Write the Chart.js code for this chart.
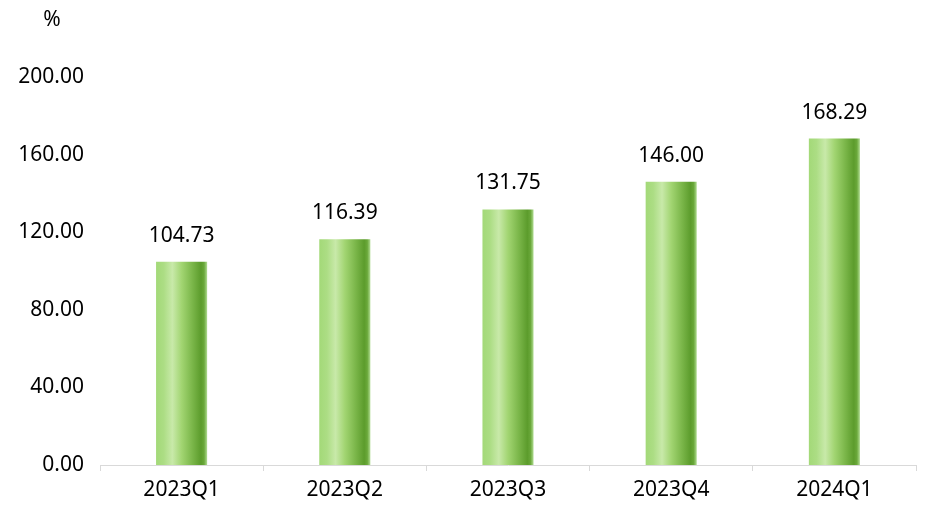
<!DOCTYPE html>
<html>
<head>
<meta charset="utf-8">
<script src="https://cdn.jsdelivr.net/npm/chart.js@4.4.1/dist/chart.umd.min.js"></script>
<style>
  html, body { margin: 0; padding: 0; background: #fff; }
  #wrap { width: 933px; height: 515px; }
</style>
</head>
<body>
<div id="wrap"><canvas id="chart"></canvas></div>
<script>
// categorias e valores (%)
const quarters = ['2023Q1', '2023Q2', '2023Q3', '2023Q4', '2024Q1'];
const ratios = [104.73, 116.39, 131.75, 146.00, 168.29];
const yTicks = [0, 40, 80, 120, 160, 200];

const FONT = '"Noto Sans", "Open Sans", sans-serif';
const BAR_PCT = 0.313;

// gradiente horizontal de cada barra (efeito cilindro)
const barGradient = (ctx) => {
    const chart = ctx.chart;
    const xs = chart.scales.x;
    if (!xs || ctx.dataIndex === undefined) return '#8cc763';
    const cx = xs.getPixelForValue(ctx.dataIndex);
    const half = (xs.width / quarters.length) * BAR_PCT / 2;
    if (!isFinite(cx) || !isFinite(half) || half <= 0) return '#8cc763';
    const g = chart.ctx.createLinearGradient(cx - half, 0, cx + half, 0);
    g.addColorStop(0, '#a3d978');
    g.addColorStop(0.15, '#acdd84');
    g.addColorStop(0.32, '#c8e9a9');
    g.addColorStop(0.5, '#a2d572');
    g.addColorStop(0.72, '#79b548');
    g.addColorStop(0.88, '#5c9c2c');
    g.addColorStop(0.94, '#6aa83a');
    g.addColorStop(1, '#b0dc92');
    return g;
};

// rótulos de valor acima das barras + "%" no topo
const labelsPlugin = {
    id: 'labels',
    afterDatasetsDraw(chart) {
        const c = chart.ctx;
        c.save();
        c.font = '21px ' + FONT;
        c.fillStyle = '#000';
        c.textAlign = 'center';
        c.textBaseline = 'middle';
        chart.getDatasetMeta(0).data.forEach((bar, i) => {
            c.fillText(ratios[i].toFixed(2), bar.x, bar.y - 26);
        });
        c.fillText('%', 52, 20);
        c.restore();
    }
};

const chart = new Chart(document.getElementById('chart'), {
    type: 'bar',
    data: {
        labels: quarters,
        datasets: [{
            data: ratios,
            backgroundColor: barGradient,
            borderWidth: 0,
            barPercentage: BAR_PCT,
            categoryPercentage: 1
        }]
    },
    options: {
        responsive: true,
        maintainAspectRatio: false,
        animation: false,
        layout: { padding: { left: 0, right: 17, top: 77, bottom: 0 } },
        plugins: {
            legend: { display: false },
            tooltip: { enabled: false }
        },
        scales: {
            x: {
                offset: true,
                grid: {
                    display: true,
                    drawOnChartArea: false,
                    drawTicks: true,
                    tickLength: 6,
                    color: '#d9d9d9',
                    offset: true
                },
                border: { display: true, color: '#d9d9d9', width: 1 },
                ticks: {
                    color: '#000',
                    font: { family: FONT, size: 21 },
                    padding: 6,
                    maxRotation: 0
                },
                afterFit: (scale) => { scale.height = 50; }
            },
            y: {
                min: 0,
                max: 200,
                grid: { display: false },
                border: { display: false },
                afterBuildTicks: (scale) => { scale.ticks = yTicks.map(v => ({ value: v })); },
                ticks: {
                    color: '#000',
                    font: { family: FONT, size: 21 },
                    padding: 8,
                    callback: (v) => Number(v).toFixed(2)
                },
                afterFit: (scale) => { scale.width = 100; }
            }
        }
    },
    plugins: [labelsPlugin]
});
// segunda atualização para que o gradiente use as posições finais
chart.update();
</script>
</body>
</html>
